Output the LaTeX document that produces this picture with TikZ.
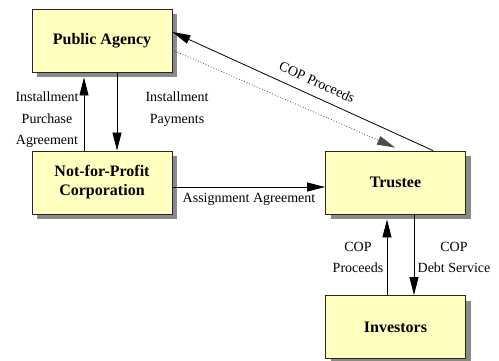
\documentclass[tikz,border=0pt]{standalone}
\usepackage{fontspec}
\setmainfont{Liberation Serif}
\usetikzlibrary{arrows.meta,shadows}
\definecolor{boxfill}{RGB}{255,255,192}
\definecolor{boxshadow}{RGB}{138,138,138}
\begin{document}
\begin{tikzpicture}[x=1bp,y=-1bp,
  party/.style={draw=black!85, line width=0.9bp, fill=boxfill,
    minimum width=140bp, minimum height=63bp, inner sep=0pt, align=center,
    font=\fontsize{16bp}{19bp}\selectfont\bfseries,
    drop shadow={shadow xshift=5bp, shadow yshift=-5bp, fill=boxshadow, opacity=1}},
  flow/.style={line width=0.8bp, -{Triangle[length=18bp,width=9bp]}},
  hint/.style={draw=black!70, line width=0.8bp, dotted, -{Triangle[length=18bp,width=9bp]}},
  lbl/.style={align=center, inner sep=0pt, font=\fontsize{14bp}{21.5bp}\selectfont}]
  \useasboundingbox (0,0) rectangle (499,360);

  % parties
  \node[party] (pa)  at (102,40.5)   {Public Agency};
  \node[party] (nfp) at (102,182.5)  {Not-for-Profit\\Corporation};
  \node[party] (tr)  at (395.5,182.5) {Trustee};
  \node[party] (inv) at (395.5,327)  {Investors};

  % agency <-> corporation
  \draw[flow] ([xshift=-18bp]nfp.north) -- ([xshift=-18bp,yshift=-5bp]pa.south);
  \draw[flow] ([xshift=15bp]pa.south) -- ([xshift=15bp]nfp.north);
  \node[lbl] (ipa) at (47,120) {Installment\\Purchase\\Agreement};
  \node[lbl] (ip)  at (177,109) {Installment\\Payments};

  % trustee <-> agency
  \draw[flow] ([xshift=37.5bp]tr.north) -- ([yshift=8.5bp]pa.east);
  \draw[hint] ([yshift=-9.5bp]pa.east) -- ([xshift=-0.5bp,yshift=3bp]tr.north);
  \node[lbl, rotate=-24.5] (cp) at (317,82) {COP Proceeds};

  % corporation -> trustee
  \draw[flow] (nfp.east |- 0,187) -- (tr.west |- 0,187);
  \node[lbl] (aa) at (249,199) {Assignment Agreement};

  % investors <-> trustee
  \draw[flow] ([xshift=-8.5bp]inv.north) -- ([xshift=-8.5bp,yshift=-5bp]tr.south);
  \draw[flow] ([xshift=18.5bp]tr.south) -- ([xshift=18.5bp]inv.north);
  \node[lbl] (cpi) at (358,257.5) {COP\\Proceeds};
  \node[lbl] (cds) at (454,257.5) {COP\\Debt Service};
\end{tikzpicture}
\end{document}
